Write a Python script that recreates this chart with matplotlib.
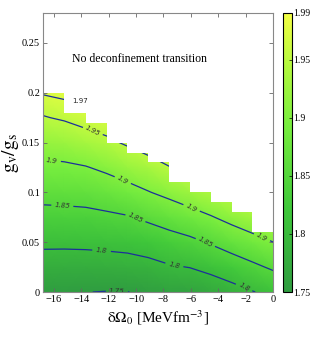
import numpy as np
import matplotlib
matplotlib.use("Agg")
import matplotlib.pyplot as plt
from matplotlib.colors import LinearSegmentedColormap
from matplotlib.path import Path
from matplotlib.patches import PathPatch

# ---- data ----
x_nodes = [-16.8, -15.24, -13.68, -12.15, -10.63, -9.12, -7.6, -6.07, -4.54, -3.02, -1.51, 0.0]
y_nodes = [0.0, 0.025, 0.05, 0.075, 0.1, 0.125, 0.15, 0.175, 0.2]
# Z[j][i] : row j = y_nodes[j], column i = x_nodes[i]
z_rows = [
    [1.752, 1.751, 1.7505, 1.749, 1.7495, 1.755, 1.760, 1.762, 1.771, 1.784, 1.798, 1.812],
    [1.780, 1.779, 1.779, 1.780, 1.782, 1.787, 1.796, 1.801, 1.8125, 1.826, 1.841, 1.856],
    [1.808, 1.808, 1.809, 1.811, 1.814, 1.821, 1.831, 1.840, 1.854, 1.870, 1.8845, 1.8996],
    [1.836, 1.837, 1.838, 1.842, 1.847, 1.858, 1.870, 1.883, 1.897, 1.913, 1.9276, 1.9436],
    [1.864, 1.865, 1.868, 1.875, 1.885, 1.898, 1.911, 1.925, 1.940, 1.955, 1.970, 1.987],
    [1.891, 1.893, 1.898, 1.908, 1.921, 1.933, 1.948, 1.964, 1.982, 1.99, 1.99, 1.99],
    [1.9195, 1.924, 1.933, 1.9425, 1.955, 1.968, 1.986, 1.99, 1.99, 1.99, 1.99, 1.99],
    [1.948, 1.954, 1.963, 1.971, 1.985, 1.99, 1.99, 1.99, 1.99, 1.99, 1.99, 1.99],
    [1.972, 1.976, 1.986, 1.99, 1.99, 1.99, 1.99, 1.99, 1.99, 1.99, 1.99, 1.99],
]
# upper boundary of the computed region for each column between x_nodes
column_tops = [0.2, 0.18, 0.17, 0.15, 0.14, 0.13, 0.11, 0.10, 0.09, 0.08, 0.06]

levels = [1.75, 1.8, 1.85, 1.9, 1.95, 1.97]
cbar_ticks = [1.75, 1.8, 1.85, 1.9, 1.95, 1.99]
cbar_labels = ["1.75", "1.8", "1.85", "1.9", "1.95", "1.99"]
x_ticks = [-16, -14, -12, -10, -8, -6, -4, -2, 0]
y_ticks = [0, 0.05, 0.1, 0.15, 0.2, 0.25]
y_ticklabels = ["0", "0.05", "0.1", "0.15", "0.2", "0.25"]
label_positions = [(-16.17, 0.132), (-10.93, 0.113), (-5.93, 0.0847), (-0.85, 0.0542),
                   (-15.39, 0.0863), (-10.07, 0.0736), (-4.95, 0.0495),
                   (-12.51, 0.0425), (-7.2, 0.0275), (-2.03, 0.006),
                   (-13.24, 0.160), (-11.4, 0.001)]
annotation = "No deconfinement transition"

plt.rcParams['font.family'] = ['Liberation Serif', 'DejaVu Serif']
plt.rcParams['mathtext.fontset'] = 'stix'

X = np.array(x_nodes)
Y = np.array(y_nodes)
Z = np.array(z_rows)

cmap = LinearSegmentedColormap.from_list(
    "gy", [(0.0, "#2f9c40"), (0.3, "#3fc83a"), (0.6, "#78ee3e"),
           (0.8, "#b0f83e"), (1.0, "#f4ff44")])

fig = plt.figure(figsize=(3.32, 3.38), dpi=100)
ax = fig.add_axes([43/332, 1-292/338, 230/332, 279/338])
cax = fig.add_axes([283/332, 1-292/338, 9/332, 279/338])

# clip path: stair-shaped domain
verts = [(x_nodes[0], 0.0)]
for i, top in enumerate(column_tops):
    verts.append((x_nodes[i], top))
    verts.append((x_nodes[i+1], top))
verts.append((x_nodes[-1], 0.0))
verts.append((x_nodes[0], 0.0))
clip = PathPatch(Path(verts, closed=True), transform=ax.transData,
                 facecolor='none', edgecolor='none')
ax.add_patch(clip)

mesh = ax.pcolormesh(X, Y, Z, shading='gouraud', cmap=cmap, vmin=1.75, vmax=1.99)
mesh.set_clip_path(clip)
cs = ax.contour(X, Y, Z, levels=levels, colors='#1c2f9a', linewidths=0.9)
cs.set_clip_path(clip)
lbls = ax.clabel(cs, levels=levels[:-1], inline=True, fontsize=5, fmt=lambda v: f"{v:g}",
                 manual=label_positions, colors='#333333')
for t in lbls:
    t.set_family('DejaVu Sans')
    t.set_style('italic')
ax.text(-14.7, 0.192, "1.97", fontsize=5, family='DejaVu Sans', color='#222222',
        va='center', ha='left')

ax.text(-9.78, 0.2334, annotation, fontsize=8.5, ha='center', va='center')

ax.set_xlim(-16.8, 0)
ax.set_ylim(0, 0.28)
ax.set_xticks(x_ticks)
ax.set_xticklabels([f"{v:d}".replace('-', '\u2212') for v in x_ticks])
ax.set_yticks(y_ticks)
ax.set_yticklabels(y_ticklabels)
ax.tick_params(direction='in', length=3, width=0.6, labelsize=7.5, pad=2,
               top=True, right=True, color='#666666')
for s in ax.spines.values():
    s.set_color('#888888')
    s.set_linewidth(0.8)

ax.set_xlabel(r'$\mathrm{\delta\Omega_0}$ [MeVfm$^{-3}$]', fontsize=11, labelpad=3)
ax.set_ylabel(r'$\mathrm{g_v/g_s}$', fontsize=14, labelpad=1)

cb = fig.colorbar(mesh, cax=cax, ticks=cbar_ticks)
cb.ax.set_yticklabels(cbar_labels)
cb.ax.tick_params(direction='in', length=2, width=0.5, labelsize=7, pad=1)
cb.outline.set_linewidth(0.8)

fig.savefig("out.png", dpi=100)
